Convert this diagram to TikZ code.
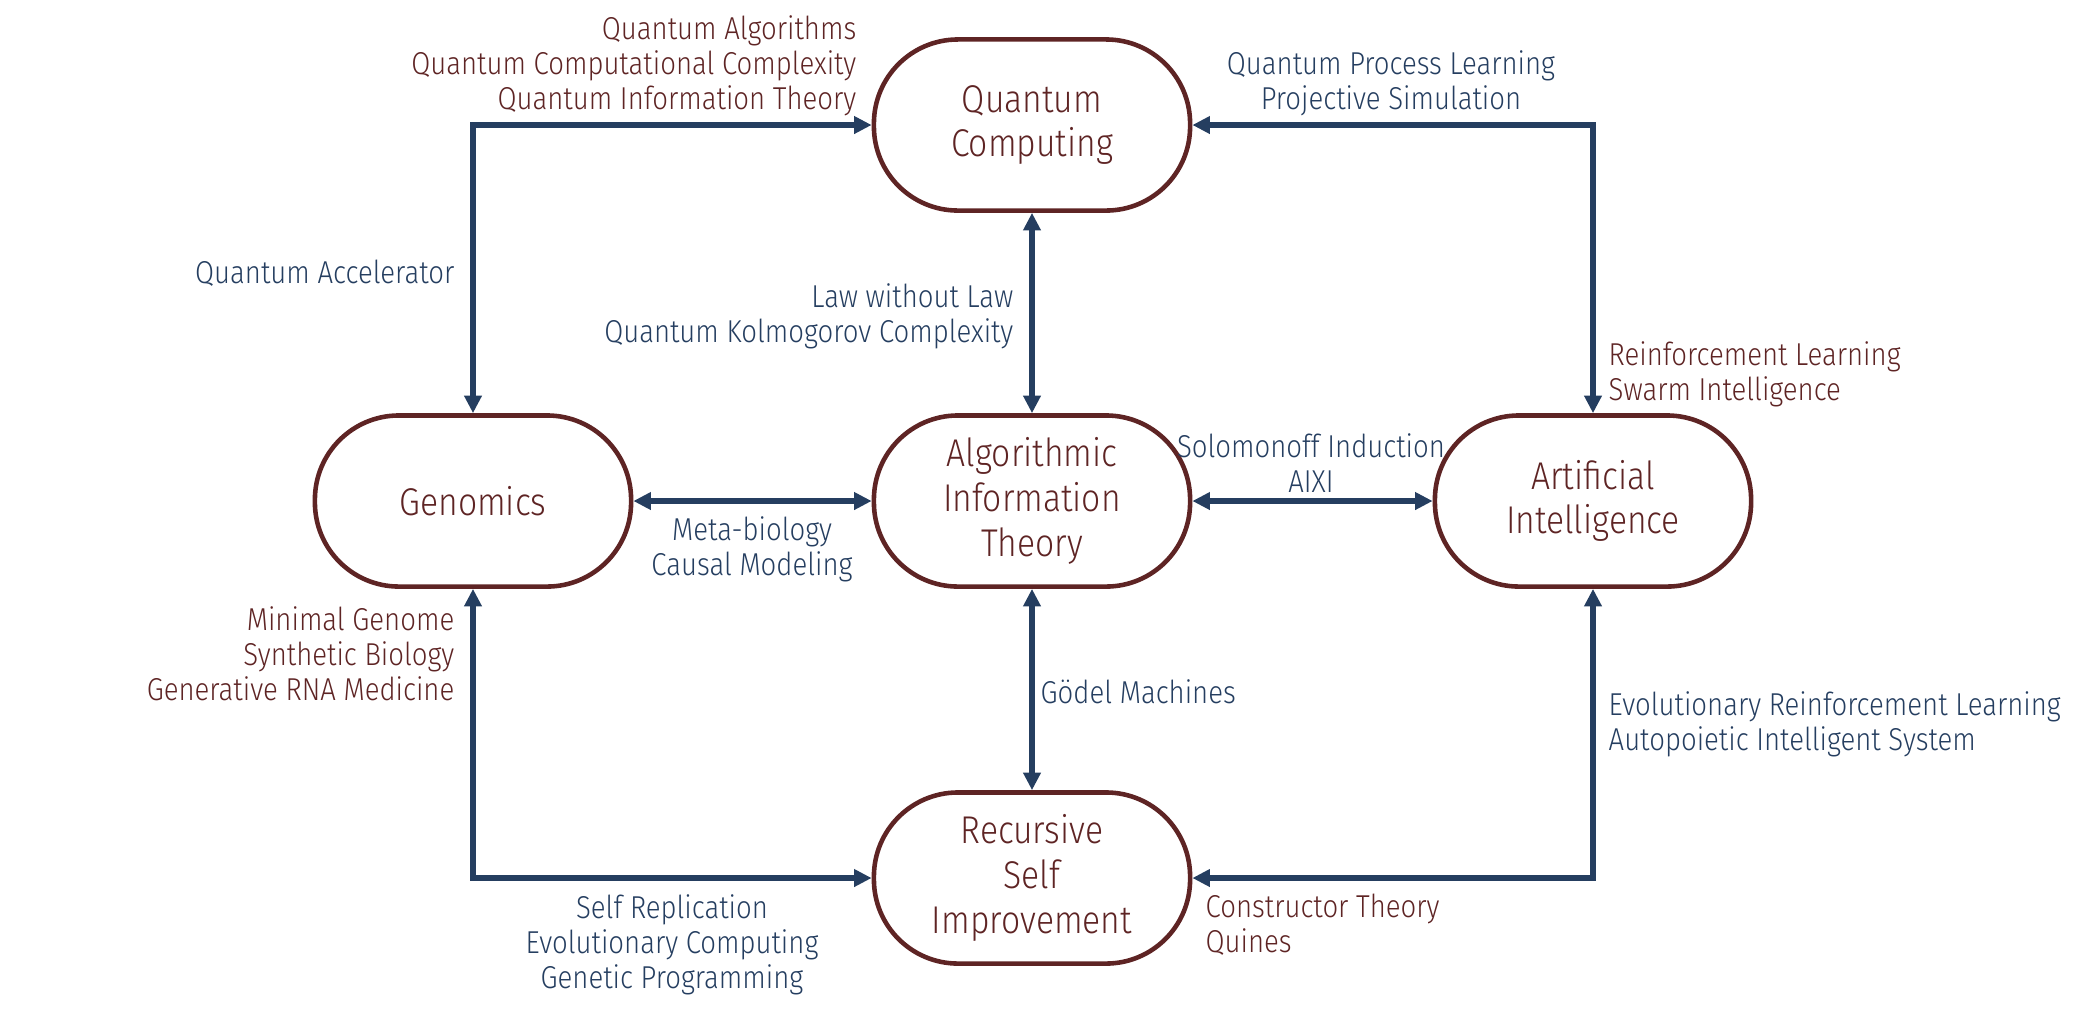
\documentclass[tikz,border=0pt]{standalone}
\usepackage{fontspec}
\setmainfont{Fira Sans Light}[FakeStretch=0.87]
\usetikzlibrary{arrows.meta}
\definecolor{maroon}{RGB}{94,36,36}
\definecolor{navy}{RGB}{37,62,96}

\begin{document}
\begin{tikzpicture}[x=0.01cm,y=-0.01cm,
  topic/.style={draw=maroon,line width=1.3pt,rounded corners=0.84cm,minimum width=3.16cm,minimum height=1.71cm,align=center,text=maroon,font=\fontsize{11}{12.7}\selectfont},
  tag/.style={inner sep=0pt,font=\fontsize{9}{10}\selectfont},
  link/.style={navy,line width=1.55pt,{Triangle[length=5pt,width=4.8pt]}-{Triangle[length=5pt,width=4.8pt]}}]
\useasboundingbox (0,0) rectangle (2079,1011);
% the five fields
\node[topic] (qc) at (1032,125) {Quantum\\Computing};
\node[topic] (gen) at (473,501) {Genomics};
\node[topic] (ait) at (1032,501) {Algorithmic\\Information\\Theory};
\node[topic] (ai) at (1593,501) {Artificial\\Intelligence};
\node[topic] (rsi) at (1032,878) {Recursive\\Self\\Improvement};
% links
\draw[link] (gen.north) |- (qc.west);
\draw[link] (qc.east) -| (ai.north);
\draw[link] (gen.south) |- (rsi.west);
\draw[link] (ai.south) |- (rsi.east);
\draw[link] (qc.south) -- (ait.north);
\draw[link] (ait.south) -- (rsi.north);
\draw[link] (gen.east) -- (ait.west);
\draw[link] (ait.east) -- (ai.west);
% labels
\node[tag,text=maroon,align=right,anchor=east] (algo) at (857,66) {Quantum Algorithms\\Quantum Computational Complexity\\Quantum Information Theory};
\node[tag,text=navy,align=center] (qpl) at (1391,83) {Quantum Process Learning\\Projective Simulation};
\node[tag,text=navy,anchor=east] (qacc) at (455,273) {Quantum Accelerator};
\node[tag,text=navy,align=right,anchor=east] (law) at (1014,316) {Law without Law\\Quantum Kolmogorov Complexity};
\node[tag,text=maroon,align=left,anchor=west] (rl) at (1608,374) {Reinforcement Learning\\Swarm Intelligence};
\node[tag,text=navy,align=center] (solo) at (1311,463) {Solomonoff Induction\\AIXI};
\node[tag,text=navy,align=center] (meta) at (752,549) {Meta-biology\\Causal Modeling};
\node[tag,text=maroon,align=right,anchor=east] (minimal) at (455,654) {Minimal Genome\\Synthetic Biology\\Generative RNA Medicine};
\node[tag,text=navy,anchor=west] (godel) at (1040,692) {Gödel Machines};
\node[tag,text=navy,align=left,anchor=west] (erl) at (1608,724) {Evolutionary Reinforcement Learning\\Autopoietic Intelligent System};
\node[tag,text=navy,align=center] (selfrep) at (672,945) {Self Replication\\Evolutionary Computing\\Genetic Programming};
\node[tag,text=maroon,align=left,anchor=west] (constr) at (1205,925) {Constructor Theory\\Quines};
\end{tikzpicture}
\end{document}
